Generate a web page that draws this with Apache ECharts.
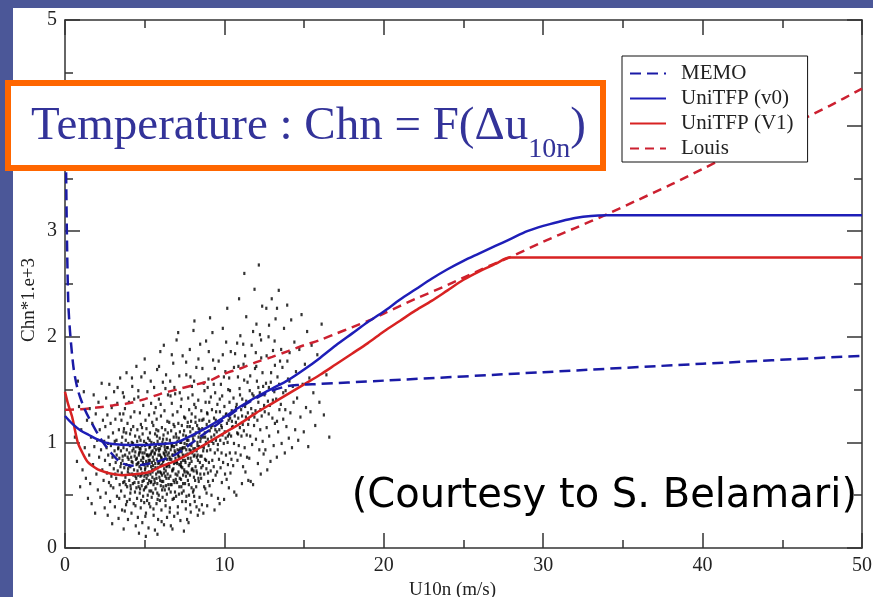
<!DOCTYPE html>
<html>
<head>
<meta charset="utf-8">
<script src="https://cdn.jsdelivr.net/npm/echarts@6/dist/echarts.min.js"></script>
<style>
  html, body { margin: 0; padding: 0; background: #4b5798; }
  #panel { position: absolute; left: 13px; top: 8px; width: 860px; height: 589px; background: #ffffff; }
  #chart { position: absolute; left: 0; top: 0; width: 873px; height: 597px; }
</style>
</head>
<body>
<div id="panel"></div>
<div id="chart"></div>
<script>
// Wind speed (m/s) and Chn*1e3 for each parameterisation
const memoX = [0.03, 0.2, 0.5, 0.8, 1.25, 1.8, 2.3, 2.9, 3.5, 4.2, 5.0, 6.0, 7.0, 8.0, 9.0, 10.0, 11.0, 12.0, 13.0, 14.0, 14.7, 15.5, 20, 30, 40, 50];
const memoY = [4.2, 2.35, 1.75, 1.5, 1.31, 1.15, 1.02, 0.9, 0.81, 0.78, 0.79, 0.83, 0.89, 1.0, 1.11, 1.22, 1.33, 1.42, 1.49, 1.535, 1.545, 1.55, 1.585, 1.665, 1.745, 1.82];

const v0X = [0, 0.5, 1, 1.5, 2, 2.5, 3, 4, 5, 6, 7, 8, 9, 10, 11, 12, 13, 14, 15, 16, 17, 18, 19, 20, 21, 22, 23, 24, 25, 26, 27, 28, 29, 30, 31, 32, 33, 34, 50];
const v0Y = [1.25, 1.17, 1.11, 1.07, 1.03, 1.0, 0.985, 0.975, 0.975, 0.985, 1.0, 1.07, 1.15, 1.24, 1.34, 1.43, 1.51, 1.59, 1.69, 1.8, 1.92, 2.03, 2.14, 2.24, 2.35, 2.45, 2.55, 2.64, 2.72, 2.79, 2.86, 2.93, 3.0, 3.05, 3.09, 3.125, 3.145, 3.15, 3.15];

const v1X = [0, 0.2, 0.45, 0.8, 1.1, 1.45, 2, 2.5, 3, 3.6, 4.5, 5.3, 6, 7, 8, 9, 10, 11, 12, 13, 14, 15, 16, 17, 18, 19, 20, 21, 22, 23, 24, 25, 26, 27, 27.9, 50];
const v1Y = [1.48, 1.36, 1.24, 1.0, 0.9, 0.81, 0.75, 0.72, 0.7, 0.69, 0.7, 0.72, 0.77, 0.83, 0.91, 1.0, 1.09, 1.18, 1.28, 1.37, 1.46, 1.55, 1.64, 1.74, 1.84, 1.94, 2.05, 2.15, 2.25, 2.34, 2.44, 2.54, 2.62, 2.69, 2.75, 2.75];

const louisX = [0, 1, 2, 3, 4, 5, 6, 7, 8, 9, 10, 11, 12, 13, 14, 15, 16, 17, 18, 19, 20, 22, 24, 26, 28, 30, 32, 34, 36, 38, 40, 42, 44, 46, 48, 50];
const louisY = [1.31, 1.315, 1.33, 1.35, 1.37, 1.41, 1.46, 1.5, 1.54, 1.58, 1.65, 1.7, 1.76, 1.81, 1.865, 1.92, 1.97, 2.03, 2.09, 2.15, 2.22, 2.36, 2.49, 2.63, 2.76, 2.9, 3.03, 3.16, 3.3, 3.44, 3.59, 3.74, 3.89, 4.04, 4.19, 4.35];

// Observed (U10n, Chn*1e3) pairs, flattened as x, y, x, y, ...
const obsFlat = [
  0.62,1.05, 0.75,0.82, 0.88,1.34, 0.95,0.58, 1.02,1.12, 1.10,0.74, 1.18,1.48, 1.24,0.95, 1.31,0.66, 1.38,1.21, 1.44,0.47, 0.81,1.58,
  1.52,0.88, 1.55,1.32, 1.58,0.61, 1.63,1.05, 1.67,0.42, 1.71,1.18, 1.76,0.79, 1.80,1.45, 1.84,0.96, 1.89,0.33, 1.93,1.27, 1.97,0.70, 2.02,1.02, 2.06,0.55, 2.10,1.38, 2.14,0.86, 2.18,1.12, 2.22,0.48, 2.26,0.93, 2.30,1.56, 2.34,0.74, 2.38,1.21, 2.42,0.64, 2.46,1.01, 2.49,0.38,
  2.51,0.83, 2.53,1.15, 2.56,0.52, 2.58,1.42, 2.61,0.95, 2.63,0.71, 2.66,1.26, 2.68,0.31, 2.71,0.88, 2.73,1.05, 2.76,0.62, 2.78,1.55, 2.81,0.79, 2.83,0.44, 2.86,1.18, 2.88,0.97, 2.91,0.68, 2.93,1.33, 2.96,0.23, 2.98,0.86, 3.01,1.09, 3.03,0.57, 3.06,0.75, 3.08,1.48, 3.11,0.92, 3.13,0.39, 3.16,1.22, 3.18,0.81, 3.21,0.66, 3.23,1.02, 3.26,0.49, 3.28,1.37, 3.31,0.73, 3.33,0.94, 3.36,0.28, 3.38,1.12, 3.41,0.85, 3.43,0.60, 3.46,1.61, 3.48,0.77, 3.12,1.01, 2.87,0.59, 3.24,0.88, 2.69,0.99, 3.44,1.27,
  3.51,0.92, 3.52,0.54, 3.54,1.21, 3.56,0.71, 3.58,0.36, 3.59,1.05, 3.61,0.83, 3.63,1.47, 3.65,0.62, 3.67,0.95, 3.68,0.18, 3.70,1.13, 3.72,0.76, 3.74,0.49, 3.76,1.32, 3.77,0.88, 3.79,0.67, 3.81,1.02, 3.83,0.41, 3.85,0.79, 3.86,1.66, 3.88,0.93, 3.90,0.58, 3.92,1.18, 3.94,0.72, 3.95,0.27, 3.97,0.99, 3.99,0.84, 4.01,1.38, 4.03,0.64, 4.04,0.90, 4.06,0.46, 4.08,1.08, 4.10,0.77, 4.12,1.24, 4.13,0.56, 4.15,0.86, 4.17,0.33, 4.19,1.00, 4.21,0.70, 4.22,1.53, 4.24,0.81, 4.26,0.61, 4.28,1.15, 4.30,0.94, 4.31,0.42, 4.33,0.74, 4.35,1.29, 4.37,0.87, 4.39,0.53, 4.40,1.06, 4.42,0.68, 4.44,0.21, 4.46,0.96, 4.48,1.72, 4.49,0.79, 3.62,0.87, 3.73,0.63, 3.84,1.09, 3.96,0.75, 4.07,0.97, 4.18,0.82, 4.29,0.69, 4.41,0.91, 3.55,0.99, 3.66,1.27, 3.89,0.44, 4.11,0.59, 4.34,1.41, 4.47,0.66,
  4.51,0.85, 4.52,0.47, 4.54,1.12, 4.55,0.73, 4.57,0.29, 4.58,0.96, 4.60,1.43, 4.61,0.62, 4.63,0.88, 4.64,0.14, 4.66,1.05, 4.67,0.77, 4.69,0.52, 4.70,1.28, 4.72,0.91, 4.73,0.68, 4.75,0.38, 4.76,1.17, 4.78,0.83, 4.79,1.62, 4.81,0.59, 4.82,0.97, 4.84,0.71, 4.85,0.24, 4.87,1.08, 4.88,0.86, 4.90,0.49, 4.91,1.35, 4.93,0.79, 4.94,0.64, 4.96,1.01, 4.97,0.43, 4.99,0.90, 5.00,1.79, 5.02,0.74, 5.03,0.57, 5.05,1.21, 5.06,0.93, 5.08,0.33, 5.09,0.82, 5.11,1.13, 5.12,0.66, 5.14,0.98, 5.15,0.45, 5.17,1.48, 5.18,0.78, 5.20,0.61, 5.21,1.04, 5.23,0.87, 5.24,0.19, 5.26,0.72, 5.27,1.26, 5.29,0.95, 5.30,0.54, 5.32,0.83, 5.33,1.09, 5.35,0.39, 5.36,0.70, 5.38,1.58, 5.39,0.89, 5.41,0.63, 5.42,1.00, 5.44,0.48, 5.45,0.81, 5.47,1.19, 5.48,0.67, 5.50,0.92, 4.56,0.80, 4.68,0.94, 4.80,0.69, 4.92,0.85, 5.04,0.76, 5.16,0.88, 5.28,0.64, 5.40,0.77, 4.62,0.58, 4.74,1.02, 4.86,0.90, 4.98,0.68, 5.10,0.58, 5.22,0.80, 5.34,0.96, 5.46,0.74, 5.07,0.11,
  5.51,0.86, 5.52,0.52, 5.54,1.16, 5.55,0.74, 5.56,0.31, 5.58,0.99, 5.59,1.52, 5.61,0.65, 5.62,0.89, 5.64,0.17, 5.65,1.08, 5.66,0.80, 5.68,0.56, 5.69,1.33, 5.71,0.93, 5.72,0.70, 5.74,0.42, 5.75,1.22, 5.76,0.84, 5.78,1.69, 5.79,0.61, 5.81,1.01, 5.82,0.76, 5.84,0.27, 5.85,1.11, 5.86,0.88, 5.88,0.50, 5.89,1.41, 5.91,0.81, 5.92,0.67, 5.94,1.04, 5.95,0.45, 5.96,0.94, 5.98,1.86, 5.99,0.78, 6.01,0.59, 6.02,1.25, 6.04,0.97, 6.05,0.36, 6.06,0.85, 6.08,1.14, 6.09,0.69, 6.11,1.00, 6.12,0.48, 6.14,1.57, 6.15,0.82, 6.16,0.63, 6.18,1.07, 6.19,0.90, 6.21,0.22, 6.22,0.75, 6.24,1.30, 6.25,0.96, 6.26,0.55, 6.28,0.87, 6.29,1.12, 6.31,0.40, 6.32,0.73, 6.34,1.64, 6.35,0.91, 6.36,0.66, 6.38,1.03, 6.39,0.51, 6.41,0.84, 6.42,1.20, 6.44,0.70, 6.45,0.95, 6.46,1.45, 6.48,0.60, 6.49,0.79, 5.57,0.83, 5.70,0.97, 5.83,0.72, 5.96,0.88, 6.10,0.79, 6.23,0.89, 6.37,0.77, 5.63,0.62, 5.77,1.06, 5.90,0.92, 6.03,0.71, 6.17,0.58, 6.30,0.99, 6.43,0.88, 5.60,1.28, 6.00,1.36, 6.20,1.92, 6.40,0.29, 5.80,0.13,
  6.51,0.90, 6.52,0.56, 6.54,1.19, 6.55,0.77, 6.57,0.34, 6.58,1.02, 6.60,1.58, 6.61,0.68, 6.63,0.93, 6.64,0.21, 6.66,1.11, 6.67,0.84, 6.69,0.60, 6.70,1.37, 6.72,0.97, 6.73,0.73, 6.75,0.46, 6.76,1.26, 6.78,0.88, 6.79,1.75, 6.81,0.64, 6.82,1.05, 6.84,0.80, 6.85,0.30, 6.87,1.15, 6.88,0.92, 6.90,0.53, 6.91,1.46, 6.93,0.85, 6.94,0.70, 6.96,1.08, 6.97,0.49, 6.99,0.98, 7.00,1.97, 7.02,0.82, 7.03,0.62, 7.05,1.29, 7.06,1.01, 7.08,0.39, 7.09,0.89, 7.11,1.18, 7.12,0.72, 7.14,1.04, 7.15,0.51, 7.17,1.63, 7.18,0.86, 7.20,0.66, 7.21,1.10, 7.23,0.94, 7.24,0.26, 7.26,0.78, 7.27,1.34, 7.29,1.00, 7.30,0.58, 7.32,0.91, 7.33,1.16, 7.35,0.44, 7.36,0.76, 7.38,1.82, 7.39,0.95, 7.41,0.69, 7.42,1.07, 7.44,0.54, 7.45,0.87, 7.47,1.24, 7.48,0.74, 7.50,0.99, 6.56,0.86, 6.68,0.99, 6.80,0.75, 6.92,0.90, 7.04,0.80, 7.16,0.92, 7.28,0.81, 7.40,0.83, 6.62,1.44, 6.86,1.52, 7.10,2.04, 7.31,1.41, 7.46,0.16, 6.74,0.18,
  7.51,0.95, 7.53,0.61, 7.54,1.23, 7.56,0.81, 7.58,0.37, 7.59,1.06, 7.61,1.64, 7.63,0.72, 7.64,0.98, 7.66,0.27, 7.68,1.15, 7.69,0.89, 7.71,0.64, 7.73,1.42, 7.74,1.02, 7.76,0.78, 7.78,0.50, 7.79,1.31, 7.81,0.93, 7.83,1.88, 7.84,0.69, 7.86,1.10, 7.88,0.85, 7.89,0.34, 7.91,1.20, 7.93,0.97, 7.94,0.57, 7.96,1.53, 7.98,0.90, 7.99,0.75, 8.01,1.13, 8.03,0.53, 8.04,1.03, 8.06,2.06, 8.08,0.87, 8.09,0.67, 8.11,1.36, 8.13,1.07, 8.14,0.44, 8.16,0.94, 8.18,1.24, 8.19,0.77, 8.21,1.09, 8.23,0.58, 8.24,1.71, 8.26,0.92, 8.28,0.71, 8.29,1.16, 8.31,1.00, 8.33,0.31, 8.34,0.83, 8.36,1.40, 8.38,1.05, 8.39,0.63, 8.41,0.96, 8.43,1.21, 8.44,0.48, 8.46,0.81, 8.48,1.93, 8.49,1.01, 7.57,0.88, 7.70,1.19, 7.82,0.80, 7.95,1.27, 8.07,0.73, 8.20,1.33, 8.32,0.88, 8.45,1.12, 7.62,0.49, 7.87,1.62, 8.12,2.15, 8.37,1.79, 7.75,0.24, 8.00,1.45, 8.25,0.39,
  8.52,1.04, 8.54,0.66, 8.55,1.30, 8.57,0.87, 8.59,0.41, 8.61,1.13, 8.62,1.70, 8.64,0.78, 8.66,1.05, 8.68,0.33, 8.69,1.22, 8.71,0.95, 8.73,0.70, 8.75,1.49, 8.77,1.09, 8.78,0.84, 8.80,0.56, 8.82,1.38, 8.84,1.00, 8.85,1.96, 8.87,0.75, 8.89,1.17, 8.91,0.92, 8.92,0.40, 8.94,1.27, 8.96,1.03, 8.98,0.63, 9.00,1.60, 9.01,0.97, 9.03,0.81, 9.05,1.20, 9.07,0.59, 9.08,1.11, 9.10,2.18, 9.12,0.93, 9.14,0.73, 9.15,1.43, 9.17,1.14, 9.19,0.50, 9.21,1.01, 9.22,1.31, 9.24,0.83, 9.26,1.16, 9.28,0.64, 9.29,1.78, 9.31,0.99, 9.33,0.77, 9.35,1.23, 9.36,1.07, 9.38,0.36, 9.40,0.90, 9.42,1.47, 9.43,1.12, 9.45,0.69, 9.47,1.02, 9.48,1.29, 8.70,1.56, 9.02,1.86, 9.25,2.04, 8.88,0.52,
  9.52,1.10, 9.54,0.72, 9.56,1.36, 9.58,0.93, 9.60,0.47, 9.62,1.19, 9.64,1.77, 9.66,0.84, 9.68,1.12, 9.70,0.42, 9.72,1.29, 9.74,1.02, 9.76,0.76, 9.78,1.55, 9.80,1.16, 9.82,0.90, 9.84,0.62, 9.86,1.44, 9.88,1.07, 9.90,2.08, 9.92,0.81, 9.94,1.24, 9.96,0.99, 9.98,0.46, 10.00,1.34, 10.02,1.10, 10.04,0.70, 10.06,1.67, 10.08,1.04, 10.10,0.88, 10.12,1.27, 10.14,0.65, 10.16,1.18, 10.18,2.27, 10.20,1.00, 10.22,0.79, 10.24,1.50, 10.26,1.21, 10.28,0.57, 10.30,1.08, 10.32,1.38, 10.34,0.90, 10.36,1.23, 10.38,0.71, 10.40,1.86, 10.42,1.06, 10.44,0.84, 10.46,1.30, 10.48,1.14, 10.11,1.95,
  10.52,1.15, 10.55,0.78, 10.57,1.42, 10.60,0.99, 10.62,0.53, 10.65,1.25, 10.67,1.84, 10.70,0.90, 10.72,1.19, 10.75,0.50, 10.77,1.36, 10.80,1.09, 10.82,0.83, 10.85,1.62, 10.87,1.23, 10.90,0.97, 10.92,2.36, 10.95,1.51, 10.97,1.14, 11.00,2.01, 11.02,0.88, 11.05,1.31, 11.07,1.06, 11.10,0.61, 11.12,1.41, 11.15,1.17, 11.17,0.77, 11.20,1.74, 11.22,1.11, 11.25,2.60, 11.27,0.95, 11.30,1.34, 11.32,0.72, 11.35,1.24, 11.37,2.19, 11.40,1.07, 11.42,0.86, 11.45,1.57, 11.47,1.28, 11.50,0.64, 10.88,1.72, 11.18,1.93,
  11.53,1.22, 11.56,0.85, 11.59,1.49, 11.62,1.06, 11.65,0.63, 11.68,1.32, 11.71,1.92, 11.74,0.98, 11.77,1.27, 11.80,0.60, 11.83,1.44, 11.86,1.16, 11.89,2.45, 11.92,1.70, 11.95,1.30, 11.98,1.03, 12.01,2.12, 12.04,1.58, 12.07,1.21, 12.10,0.80, 12.13,1.38, 12.16,2.68, 12.19,0.93, 12.22,1.47, 12.25,1.12, 12.28,0.70, 12.31,1.80, 12.34,1.25, 12.37,2.29, 12.40,1.01, 12.43,1.53, 12.46,0.89, 12.49,1.35, 11.97,1.85, 12.23,2.02,
  12.53,1.29, 12.57,0.93, 12.61,1.56, 12.65,1.14, 12.69,0.74, 12.73,1.39, 12.77,2.00, 12.81,1.06, 12.85,1.35, 12.89,0.82, 12.93,1.66, 12.97,2.36, 13.01,1.23, 13.05,1.87, 13.09,0.97, 13.13,1.48, 13.17,1.18, 13.21,2.17, 13.25,1.41, 13.29,0.86, 13.33,1.62, 13.37,1.10, 13.41,2.44, 13.45,1.31, 13.49,1.77, 12.79,1.52, 13.15,1.96, 12.63,2.27,
  13.54,1.36, 13.59,0.99, 13.64,1.71, 13.69,1.22, 13.74,2.08, 13.79,0.90, 13.84,1.49, 13.89,1.15, 13.94,2.30, 13.99,1.60, 14.04,1.04, 14.09,1.85, 14.14,1.28, 14.19,2.16, 14.24,0.95, 14.29,1.53, 14.34,1.38, 14.39,1.95, 14.44,1.12, 14.49,1.67,
  14.56,1.42, 14.63,1.02, 14.70,1.88, 14.77,1.24, 14.84,2.21, 14.91,1.55, 14.98,1.10, 15.05,1.74, 15.12,1.33, 15.19,2.05, 15.26,0.96, 15.33,1.61, 15.40,1.29, 15.47,1.92,
  15.58,1.47, 15.70,1.16, 15.83,1.83, 15.96,1.38, 16.10,2.12, 16.24,1.26, 16.40,1.64, 16.58,1.05
];

// Extra observations in the dense core of the cloud and along its upper band
const obsCoreFlat = [
  3.15,0.70, 3.35,0.95, 3.52,0.80, 3.68,1.10, 3.81,0.60, 3.93,0.86, 4.05,0.70, 4.14,1.12, 4.23,0.92, 4.36,0.62, 4.45,0.84, 4.53,1.01, 4.59,0.69, 4.65,0.90, 4.71,0.56, 4.77,0.75, 4.83,1.14, 4.89,0.81, 4.95,0.55, 5.01,0.97, 5.07,0.70, 5.13,0.88, 5.19,0.50, 5.25,0.83, 5.31,1.02, 5.37,0.62, 5.43,0.91, 5.49,0.72, 5.55,0.60, 5.61,0.95, 5.67,0.76, 5.73,1.12, 5.79,0.52, 5.85,0.80, 5.91,0.98, 5.97,0.64, 6.03,0.86, 6.09,0.55, 6.15,1.03, 6.21,0.71, 6.27,0.93, 6.33,0.59, 6.39,0.78, 6.45,1.09, 6.51,0.66, 6.57,0.84, 6.63,0.53, 6.69,0.96, 6.75,0.74, 6.81,1.17, 6.87,0.62, 6.93,0.81, 6.99,1.05, 7.05,0.69, 7.11,0.87, 7.17,0.58, 7.23,1.00, 7.29,0.77, 7.35,0.94, 7.41,0.61, 7.47,1.11, 7.53,0.83, 7.59,0.68, 7.65,1.02, 7.71,0.85, 7.77,0.60, 7.83,1.15, 7.89,0.92, 7.95,0.74, 8.01,1.06, 8.07,0.55, 8.13,0.88, 8.19,1.19, 8.25,0.73, 8.31,0.97, 8.37,0.66, 8.43,1.09, 8.49,0.87, 8.55,0.76, 8.61,1.21, 8.67,0.92, 8.73,0.58, 8.79,1.05, 8.85,0.83, 8.91,1.28, 8.97,0.71,
  4.02,0.78, 4.27,0.99, 4.48,0.57, 4.61,0.81, 4.74,0.94, 4.86,0.63, 4.97,0.79, 5.08,0.99, 5.19,0.69, 5.30,0.88, 5.41,0.54, 5.52,0.78, 5.63,0.90, 5.74,0.66, 5.85,0.94, 5.96,0.72, 6.07,0.63, 6.18,0.83, 6.29,0.68, 6.40,0.95, 6.51,0.80, 6.62,0.60, 6.73,0.88, 6.84,0.96, 6.95,0.65, 7.06,0.93, 7.17,0.79, 7.28,0.65, 7.39,0.88, 7.50,0.72, 7.61,0.93, 7.72,0.71, 7.83,0.98, 7.94,0.82, 8.05,0.94, 8.16,0.64, 8.27,0.86, 8.38,1.13, 8.49,0.70, 8.60,0.96,
  3.40,0.47, 3.75,0.35, 4.10,0.52, 4.42,0.40, 4.78,0.45, 5.04,0.30, 5.28,0.42, 5.55,0.37, 5.81,0.46, 6.06,0.25, 6.30,0.45, 6.58,0.38, 6.83,0.47, 7.07,0.33, 7.33,0.52, 7.58,0.44, 7.85,0.41, 8.10,0.49, 8.42,0.36,
  9.05,1.38, 9.18,1.05, 9.33,1.55, 9.46,1.21, 9.59,0.98, 9.71,1.41, 9.84,1.14, 9.97,1.62, 10.09,1.26, 10.22,1.06, 10.35,1.49, 10.47,1.20, 10.60,1.71, 10.73,1.33, 10.86,1.08, 10.98,1.45, 11.11,1.25, 11.24,1.59, 11.37,1.39, 11.49,1.17, 11.62,1.63, 11.75,1.46, 11.88,1.24, 12.00,1.72, 12.13,1.52, 12.26,1.31, 12.39,1.66, 12.52,1.45, 12.65,1.82, 12.78,1.27, 12.91,1.57, 13.04,1.40, 13.17,1.73, 13.30,1.20, 13.43,1.55, 13.56,1.88, 13.69,1.47, 13.82,1.31, 13.95,1.77, 14.08,1.58, 8.95,1.52, 9.40,1.70, 9.90,1.83, 10.30,1.61, 10.80,1.94, 11.30,1.82, 11.80,2.05, 12.30,1.97, 12.80,2.11, 13.30,2.27,
  3.30,1.52, 3.70,1.43, 4.20,1.61, 4.60,1.49, 5.00,1.66, 5.40,1.37, 5.90,1.72, 6.30,1.51, 6.70,1.83, 7.20,1.47, 7.60,1.76, 8.10,1.58
];

const xTicks = { min: 0, max: 50, interval: 10 };
const yTicks = { min: 0, max: 5, interval: 1 };

const zip = (xs, ys) => xs.map((x, i) => [x, ys[i]]);
const pairUp = (flat) => {
  const out = [];
  for (let i = 0; i < flat.length; i += 2) out.push([flat[i], flat[i + 1]]);
  return out;
};
const obsPairs = pairUp(obsFlat).concat(pairUp(obsCoreFlat));

const SERIF = '"Liberation Serif", "Times New Roman", serif';
const BLUE = '#1e1eb8';
const RED = '#d82222';

// Frame axes: inward major/minor ticks on all four sides
function axisBase(showLabel) {
  return {
    type: 'value',
    splitLine: { show: false },
    axisLine: { onZero: false, lineStyle: { color: '#333', width: 1.5 } },
    axisTick: { inside: true, length: 15, lineStyle: { color: '#333', width: 1.5 } },
    minorTick: { show: true, splitNumber: 2, length: 8, lineStyle: { color: '#333', width: 1.5 } },
    minorSplitLine: { show: false },
    axisLabel: { show: showLabel, fontFamily: SERIF, fontSize: 20, color: '#222', margin: 8 }
  };
}

const chart = echarts.init(document.getElementById('chart'), null, { renderer: 'canvas' });

chart.setOption({
  backgroundColor: 'transparent',
  animation: false,
  grid: { left: 65, top: 20, right: 11, bottom: 49, containLabel: false, outerBoundsMode: 'none' },
  xAxis: [
    Object.assign(axisBase(true), xTicks, {
      position: 'bottom',
      name: 'U10n (m/s)', nameLocation: 'middle', nameGap: 23,
      nameTextStyle: { fontFamily: SERIF, fontSize: 19, color: '#222', padding: [0, 22, 0, 0] }
    }),
    Object.assign(axisBase(false), xTicks, { position: 'top' })
  ],
  yAxis: [
    Object.assign(axisBase(true), yTicks, { position: 'left' }),
    Object.assign(axisBase(false), yTicks, { position: 'right' })
  ],
  legend: {
    orient: 'vertical',
    left: 622, top: 56,
    padding: [7, 14, 3, 7],
    itemWidth: 36, itemHeight: 14, itemGap: 4,
    itemStyle: { opacity: 0 },
    backgroundColor: '#fff', borderColor: '#111', borderWidth: 1,
    textStyle: { fontFamily: SERIF, fontSize: 21, color: '#222', lineHeight: 20, padding: [0, 0, 0, 10] },
    data: ['MEMO', 'UniTFP (v0)', 'UniTFP (V1)', 'Louis']
  },
  series: [
    {
      name: 'obs', type: 'scatter', data: obsPairs,
      symbol: 'rect', symbolSize: [2.2, 3.2],
      itemStyle: { color: '#000' }, silent: true, z: 1
    },
    {
      name: 'Louis', type: 'line', data: zip(louisX, louisY), symbol: 'none', smooth: 0.3,
      lineStyle: { color: '#cc2030', width: 2.5, type: [9, 6] }, itemStyle: { color: '#cc2030' }, z: 3
    },
    {
      name: 'UniTFP (V1)', type: 'line', data: zip(v1X, v1Y), symbol: 'none', smooth: 0.3,
      lineStyle: { color: RED, width: 2.5 }, itemStyle: { color: RED }, z: 3
    },
    {
      name: 'UniTFP (v0)', type: 'line', data: zip(v0X, v0Y), symbol: 'none', smooth: 0.3,
      lineStyle: { color: BLUE, width: 2.5 }, itemStyle: { color: BLUE }, z: 3
    },
    {
      name: 'MEMO', type: 'line', data: zip(memoX, memoY), symbol: 'none', smooth: 0.3,
      lineStyle: { color: '#1a1aa6', width: 2.5, type: [11, 6] }, itemStyle: { color: '#1a1aa6' }, z: 3
    }
  ],
  graphic: [
    {
      type: 'text', z: 10, x: 29, y: 300, rotation: Math.PI / 2,
      style: { text: 'Chn*1.e+3', font: '19px ' + SERIF, fill: '#222', textAlign: 'center', textVerticalAlign: 'middle' }
    },
    {
      type: 'rect', z: 50,
      shape: { x: 8, y: 83, width: 595, height: 85 },
      style: { fill: '#fff', stroke: '#ff6600', lineWidth: 6 }
    },
    {
      type: 'text', z: 51, x: 31, y: 164,
      style: {
        text: '{a|Temperature : Chn = F(Δu}{s|10n}{a|)}',
        textVerticalAlign: 'bottom',
        rich: {
          a: { fontFamily: SERIF, fontSize: 47, fill: '#333399', color: '#333399', lineHeight: 50, padding: [0, 0, 14, 0], verticalAlign: 'bottom' },
          s: { fontFamily: SERIF, fontSize: 28, fill: '#333399', color: '#333399', lineHeight: 30, verticalAlign: 'bottom' }
        }
      }
    },
    {
      type: 'text', z: 51, x: 857, y: 497,
      style: { text: '(Courtesy to S. Belamari)', font: '40px "DejaVu Sans", sans-serif', fill: '#000', textAlign: 'right', textVerticalAlign: 'middle' }
    }
  ]
});
</script>
</body>
</html>
